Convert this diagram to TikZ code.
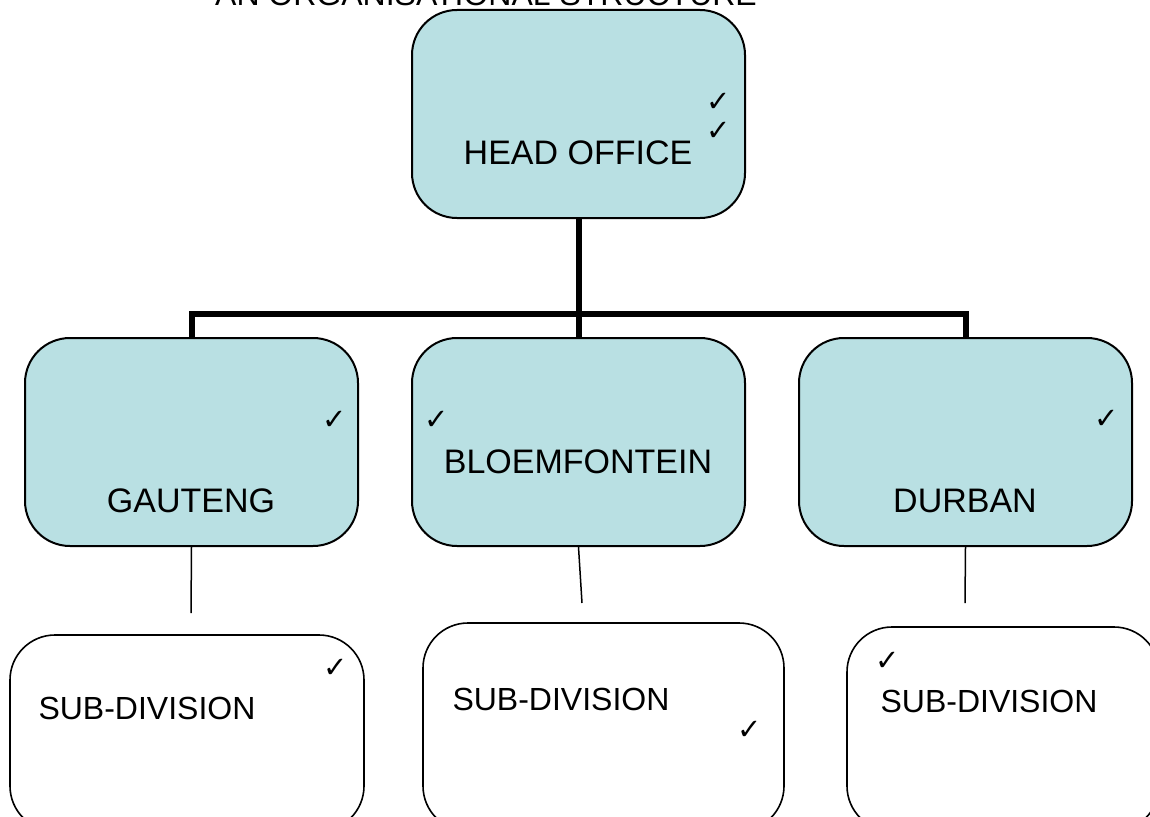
\documentclass[tikz,border=0pt]{standalone}
\usepackage{fontspec}
\setmainfont{Liberation Sans}
\newfontfamily\tickfont{DejaVu Sans}
\definecolor{boxfill}{RGB}{185,224,227}
\tikzset{
  headbox/.style={draw=black, line width=2pt, fill=boxfill, rounded corners=45pt, minimum width=333pt, minimum height=208pt, inner sep=0pt},
  subbox/.style={draw=black, line width=1.6pt, fill=white, rounded corners=45pt, inner sep=0pt},
  lbl/.style={font=\fontsize{34}{34}\selectfont, inner sep=0pt, anchor=base},
  sublbl/.style={font=\fontsize{32}{32}\selectfont, inner sep=0pt, anchor=base},
  tick/.style={font=\tickfont\fontsize{29}{29}\selectfont, inner sep=0pt},
  thick connector/.style={line width=6pt},
  thin connector/.style={line width=1.5pt}
}
\begin{document}
\begin{tikzpicture}[x=1pt,y=-1pt]
\useasboundingbox (0,0) rectangle (1150,816);
% title
\node[lbl, font=\fontsize{32}{32}\selectfont] (title) at (486,6) {AN ORGANISATIONAL STRUCTURE};
% head office
\node[headbox] (head) at (578.5,114) {};
\node[lbl] (headtxt) at (578,164) {HEAD OFFICE};
\node[tick] (hc1) at (719,102) {✓};
\node[tick] (hc2) at (719,131) {✓};
% second level
\node[headbox] (gau) at (191.5,442) {};
\node[headbox] (blo) at (578.5,442) {};
\node[headbox] (dur) at (965.5,442) {};
\node[lbl] (gautxt) at (191,512) {GAUTENG};
\node[lbl] (blotxt) at (578,473) {BLOEMFONTEIN};
\node[lbl] (durtxt) at (965,512) {DURBAN};
\node[tick] (gc) at (335,420) {✓};
\node[tick] (bc) at (437,420) {✓};
\node[tick] (dc) at (1107,419) {✓};
% third level
\node[subbox, minimum width=354pt, minimum height=196pt] (s1) at (187,733) {};
\node[subbox, minimum width=361pt, minimum height=208pt] (s2) at (603.5,727) {};
\node[subbox, minimum width=312pt, minimum height=204pt] (s3) at (1003,729) {};
\node[sublbl] (s1txt) at (147,719) {SUB-DIVISION};
\node[sublbl] (s2txt) at (561,710) {SUB-DIVISION};
\node[sublbl] (s3txt) at (989,712) {SUB-DIVISION};
\node[tick] (s1c) at (336,668) {✓};
\node[tick] (s2c) at (750,730) {✓};
\node[tick] (s3c) at (888,661) {✓};
% connectors
\coordinate (bus) at (578.5,314);
\draw[thick connector] (head.south) -- (bus);
\draw[thick connector] (gau.north) -- (gau.north |- bus) -- (dur.north |- bus) -- (dur.north);
\draw[thick connector] (bus) -- (blo.north);
\coordinate (g1) at (191,613);
\coordinate (b1) at (582,603);
\coordinate (d1) at (965,603);
\draw[thin connector] (gau.south) -- (g1);
\draw[thin connector] (blo.south) -- (b1);
\draw[thin connector] (dur.south) -- (d1);
\end{tikzpicture}
\end{document}
